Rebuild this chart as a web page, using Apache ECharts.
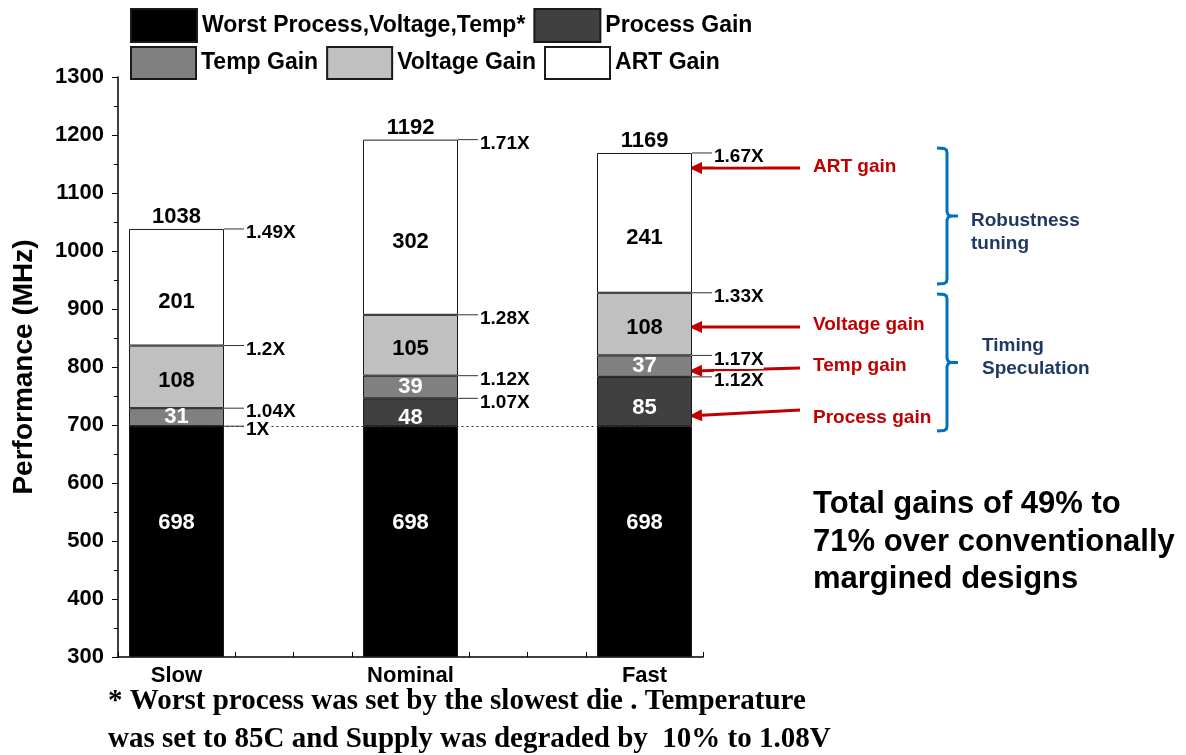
<!DOCTYPE html>
<html>
<head>
<meta charset="utf-8">
<title>Performance gains</title>
<script src="https://cdn.jsdelivr.net/npm/echarts@6/dist/echarts.min.js"></script>
<style>
  html, body { margin: 0; padding: 0; background: #ffffff; }
  #chart { width: 1186px; height: 755px; }
</style>
</head>
<body>
<div id="chart"></div>
<script>
// Process corners shown as bars
const categories = ['Slow', 'Nominal', 'Fast'];

// Stacked frequency contributions (MHz)
const worstCase   = [698, 698, 698];
const processGain = [0, 48, 85];
const tempGain    = [31, 39, 37];
const voltageGain = [108, 105, 108];
const artGain     = [201, 302, 241];

// Speed-up relative to the worst-case design, at the top of each segment
const multWorst   = ['1X', '', ''];
const multProcess = ['', '1.07X', '1.12X'];
const multTemp    = ['1.04X', '1.12X', '1.17X'];
const multVoltage = ['1.2X', '1.28X', '1.33X'];
const multArt     = ['1.49X', '1.71X', '1.67X'];

// Performance axis
const yMin = 300;
const yMax = 1300;
const yStep = 100;

const seriesNames = ['Worst Process,Voltage,Temp*', 'Process Gain', 'Temp Gain', 'Voltage Gain', 'ART Gain'];
const segments = [worstCase, processGain, tempGain, voltageGain, artGain];
const segmentMults = [multWorst, multProcess, multTemp, multVoltage, multArt];
const fills = ['#000000', '#404040', '#808080', '#c0c0c0', '#ffffff'];
const labelInk = ['#ffffff', '#ffffff', '#ffffff', '#000000', '#000000'];
const labelShift = [-19, 6, 0, 4, 15];

const BAR_W = 95;
const FONT = '"Liberation Sans", Arial, Helvetica, sans-serif';
const SERIF = '"Liberation Serif", "Times New Roman", serif';

// x position of each category on the value x axis
const xPos = categories.map((c, i) => i + 1);

// running tops of the stack, used for multipliers and totals
const multData = [];
const totalData = [];
xPos.forEach((x, i) => {
  let top = 0;
  segments.forEach((seg, s) => {
    top += seg[i];
    const txt = segmentMults[s][i];
    if (txt) multData.push([x, top, txt]);
  });
  totalData.push([x, top]);
});

// value first in each item so that the stack is taken on the performance value
const barSeries = segments.map((seg, s) => ({
  name: seriesNames[s],
  type: 'bar',
  stack: 'perf',
  barWidth: BAR_W,
  encode: { x: 1, y: 0 },
  data: xPos.map((x, i) => [seg[i], x]),
  itemStyle: { color: fills[s], borderColor: '#1a1a1a', borderWidth: 1 },
  label: {
    show: true,
    position: 'inside',
    offset: [0, labelShift[s]],
    color: labelInk[s],
    fontFamily: FONT,
    fontWeight: 'bold',
    fontSize: 22,
    formatter: p => (p.value[0] ? String(p.value[0]) : '')
  },
  emphasis: { disabled: true },
  z: 2
}));

// dotted reference at the worst-case level
barSeries[0].markLine = {
  silent: true,
  symbol: 'none',
  label: { show: false },
  lineStyle: { type: [2, 3], color: '#333', width: 1 },
  data: [[{ coord: [xPos[0], worstCase[0]] }, { coord: [xPos[2], worstCase[2]] }]],
  z: 1
};

const multSeries = {
  name: 'multipliers',
  type: 'custom',
  data: multData,
  z: 10,
  silent: true,
  renderItem: (params, api) => {
    const p = api.coord([api.value(0), api.value(1)]);
    const edge = p[0] + BAR_W / 2;
    return {
      type: 'group',
      children: [
        { type: 'line', shape: { x1: edge, y1: p[1], x2: edge + 20, y2: p[1] },
          style: { stroke: '#333', lineWidth: 1 } },
        { type: 'text', x: edge + 22, y: p[1] + 4,
          style: { text: multData[params.dataIndex][2], fill: '#000', font: 'bold 19px ' + FONT,
                   verticalAlign: 'middle', align: 'left', backgroundColor: '#fff' } }
      ]
    };
  }
};

const totalSeries = {
  name: 'totals',
  type: 'custom',
  data: totalData,
  z: 10,
  silent: true,
  renderItem: (params, api) => {
    const p = api.coord([api.value(0), api.value(1)]);
    return {
      type: 'text', x: p[0], y: p[1] - 1,
      style: { text: String(api.value(1)), fill: '#000', font: 'bold 22px ' + FONT,
               align: 'center', verticalAlign: 'bottom' }
    };
  }
};

// right-hand annotations
const RED = '#c00000';
const BLUE = '#0070c0';
const NAVY = '#1f3864';
function arrow(x1, y1, x2, y2) {
  const ang = Math.atan2(y2 - y1, x2 - x1);
  const L = 13, W = 6;
  const bx = x2 - L * Math.cos(ang), by = y2 - L * Math.sin(ang);
  const nx = -Math.sin(ang) * W, ny = Math.cos(ang) * W;
  return {
    type: 'group', silent: true,
    children: [
      { type: 'line', shape: { x1: x1, y1: y1, x2: bx, y2: by }, style: { stroke: RED, lineWidth: 3 } },
      { type: 'polygon', shape: { points: [[x2, y2], [bx + nx, by + ny], [bx - nx, by - ny]] }, style: { fill: RED } }
    ]
  };
}
// right-facing curly bracket made of two polylines with softened corners
function brace(x, top, bottom) {
  const mid = (top + bottom) / 2;
  const upper = [[x - 10, top], [x - 3, top + 0.4], [x - 0.6, top + 2], [x, top + 5], [x, mid - 4], [x + 1, mid - 1.5], [x + 4, mid], [x + 11, mid]];
  const lower = [[x + 4, mid], [x + 1, mid + 1.5], [x, mid + 4], [x, bottom - 5], [x - 0.6, bottom - 2], [x - 3, bottom - 0.4], [x - 10, bottom]];
  return {
    type: 'group', silent: true,
    children: [
      { type: 'polyline', shape: { points: upper }, style: { stroke: BLUE, lineWidth: 3, fill: null } },
      { type: 'polyline', shape: { points: lower }, style: { stroke: BLUE, lineWidth: 3, fill: null } }
    ]
  };
}
function label(x, y, text, color, size) {
  return {
    type: 'text', x: x, y: y, silent: true,
    style: { text: text, fill: color, font: 'bold ' + size + 'px ' + FONT, verticalAlign: 'middle' }
  };
}

const graphics = [
  arrow(800, 168, 689, 168),
  arrow(800, 327, 689, 327),
  arrow(800, 368, 689, 371),
  arrow(800, 410, 689, 416),
  label(813, 167, 'ART gain', RED, 19),
  label(813, 325, 'Voltage gain', RED, 19),
  label(813, 366, 'Temp gain', RED, 19),
  label(813, 418, 'Process gain', RED, 19),
  brace(947, 148, 284),
  brace(947, 294, 431),
  { type: 'text', x: 971, y: 209, silent: true,
    style: { text: 'Robustness\ntuning', fill: NAVY, font: 'bold 19px ' + FONT, lineHeight: 23 } },
  { type: 'text', x: 982, y: 334, silent: true,
    style: { text: 'Timing\nSpeculation', fill: NAVY, font: 'bold 19px ' + FONT, lineHeight: 23 } },
  { type: 'text', x: 813, y: 486, silent: true,
    style: { text: 'Total gains of 49% to\n71% over conventionally\nmargined designs', fill: '#000',
             font: 'bold 31px ' + FONT, lineHeight: 37.5 } },
  { type: 'text', x: 108, y: 683, silent: true,
    style: { text: '* Worst process was set by the slowest die . Temperature\nwas set to 85C and Supply was degraded by  10% to 1.08V',
             fill: '#000', font: 'bold 29px ' + SERIF, lineHeight: 38 } }
];

const chart = echarts.init(document.getElementById('chart'), null, { renderer: 'canvas' });
chart.setOption({
  backgroundColor: '#ffffff',
  animation: false,
  textStyle: { fontFamily: FONT },
  legend: [
    {
      left: 130, top: 8, padding: 0, itemWidth: 66, itemHeight: 33, itemGap: 8, icon: 'rect',
      selectedMode: false,
      data: seriesNames.slice(0, 2),
      textStyle: { fontFamily: FONT, fontWeight: 'bold', fontSize: 23, color: '#000' }
    },
    {
      left: 130, top: 46, padding: 0, itemWidth: 65, itemHeight: 32, itemGap: 8, icon: 'rect',
      selectedMode: false,
      data: seriesNames.slice(2),
      textStyle: { fontFamily: FONT, fontWeight: 'bold', fontSize: 23, color: '#000' }
    }
  ],
  grid: { left: 118, right: 483, top: 77, bottom: 98, containLabel: false },
  xAxis: {
    type: 'value',
    min: 0.75, max: 3.25, interval: 0.25,
    splitLine: { show: false },
    axisLine: { show: true, onZero: false, lineStyle: { color: '#000', width: 1.5 } },
    axisTick: { show: true, inside: true, length: 5, lineStyle: { color: '#000' } },
    axisLabel: {
      margin: 8, color: '#000', fontFamily: FONT, fontWeight: 'bold', fontSize: 22,
      showMinLabel: true, showMaxLabel: true,
      formatter: v => {
        const i = Math.round(v);
        return Math.abs(v - i) < 1e-6 && categories[i - 1] ? categories[i - 1] : '';
      }
    }
  },
  yAxis: {
    type: 'value',
    min: yMin, max: yMax, interval: yStep,
    startValue: yMin,
    name: 'Performance (MHz)',
    nameLocation: 'middle',
    nameGap: 80,
    nameTextStyle: { fontFamily: FONT, fontWeight: 'bold', fontSize: 28, color: '#000' },
    splitLine: { show: false },
    axisLine: { show: true, lineStyle: { color: '#000', width: 1.5 } },
    axisTick: { show: true, length: 6, lineStyle: { color: '#000' } },
    minorTick: { show: true, splitNumber: 2, length: 4, lineStyle: { color: '#000' } },
    axisLabel: { margin: 14, color: '#000', fontFamily: FONT, fontWeight: 'bold', fontSize: 22,
                 formatter: v => String(v) }
  },
  series: barSeries.concat([multSeries, totalSeries]),
  graphic: graphics
});
</script>
</body>
</html>
